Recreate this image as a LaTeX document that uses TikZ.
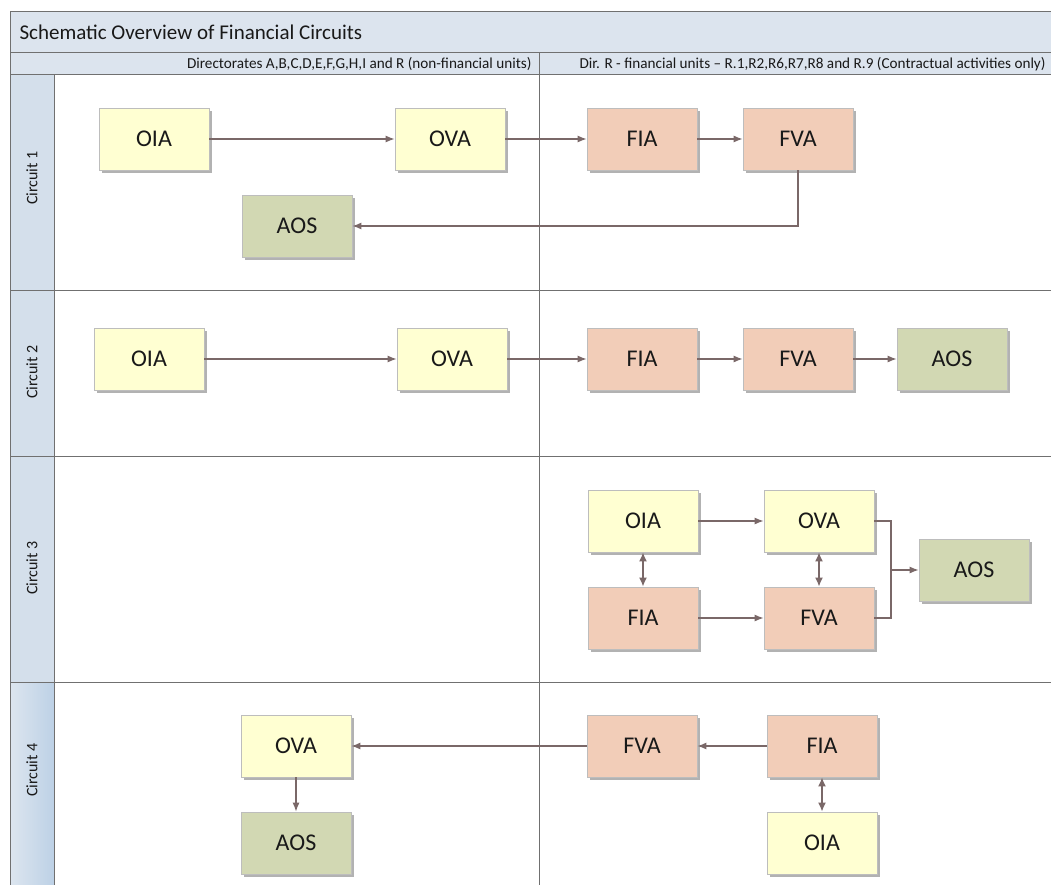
\documentclass[tikz,border=0pt]{standalone}
\usepackage{fontspec}
\setmainfont{Carlito}
\usetikzlibrary{arrows.meta,shadows}
\definecolor{yel}{HTML}{FFFFD2}
\definecolor{pnk}{HTML}{F2CDB8}
\definecolor{grn}{HTML}{D2D8B3}
\definecolor{band}{HTML}{DCE4EE}
\definecolor{lane}{HTML}{D4DFEB}
\definecolor{lanedark}{HTML}{BDD1E6}
\definecolor{frame}{HTML}{707070}
\definecolor{arrc}{HTML}{7A6868}
\definecolor{boxline}{HTML}{BDBDBD}
\tikzset{
  box/.style={draw=boxline, line width=0.8pt, minimum width=110pt, minimum height=62pt,
    font=\fontsize{24}{28}\selectfont, text=black!90,
    drop shadow={shadow xshift=3pt, shadow yshift=-3pt, fill=black!30, opacity=1}},
  ybox/.style={box, fill=yel},
  pbox/.style={box, fill=pnk},
  gbox/.style={box, fill=grn},
  conn/.style={draw=arrc, line width=1.1pt},
  arr/.style={conn, -{Latex[length=9pt,width=7pt]}},
  darr/.style={conn, line width=1.6pt, {Latex[length=9pt,width=8pt]}-{Latex[length=9pt,width=8pt]}},
  frm/.style={draw=frame, line width=1pt},
  lanelbl/.style={rotate=90, font=\fontsize{16}{19}\selectfont, text=black!90},
  hdr/.style={font=\fontsize{15.2}{17}\selectfont, text=black!90}
}
\begin{document}
\begin{tikzpicture}[x=1pt,y=-1pt]
\useasboundingbox (0,0) rectangle (1051,885);
\begin{scope}
\clip (0,0) rectangle (1051,885);
\fill[white] (0,0) rectangle (1051,885);
% bands
\fill[band] (10,12) rectangle (1070,75);
\fill[lane] (10,75) rectangle (54,682);
\shade[left color=lane!80!white, right color=lanedark] (10,682) rectangle (54,900);
% frame lines
\draw[frm] (1070,12) -- (10,12) -- (10,900);
\draw[frm] (10,53) -- (1070,53);
\draw[frm] (10,75) -- (1070,75);
\draw[frm] (54,75) -- (54,900);
\draw[frm] (539,53) -- (539,900);
\draw[frm] (10,290) -- (1070,290);
\draw[frm] (10,456) -- (1070,456);
\draw[frm] (10,682) -- (1070,682);
% titles
\node[anchor=west, font=\fontsize{21}{25}\selectfont, text=black!90] (title) at (16,32) {Schematic Overview of Financial Circuits};
\node[hdr, anchor=east] (h1) at (535,64) {Directorates A,B,C,D,E,F,G,H,I and R (non-financial units)};
\node[hdr, anchor=west] (h2) at (576,64) {Dir. R - financial units – R.1,R2,R6,R7,R8 and R.9 (Contractual activities only)};
\node[lanelbl] (l1) at (32,178) {Circuit 1};
\node[lanelbl] (l2) at (32,372) {Circuit 2};
\node[lanelbl] (l3) at (32,568) {Circuit 3};
\node[lanelbl] (l4) at (32,770) {Circuit 4};
% circuit 1
\node[ybox] (o1) at (154,139) {OIA};
\node[ybox] (v1) at (450,139) {OVA};
\node[pbox] (f1) at (642,139) {FIA};
\node[pbox] (fv1) at (798,139) {FVA};
\node[gbox] (a1) at (297,226) {AOS};
\draw[arr] (o1) -- (v1);
\draw[arr] (v1) -- (f1);
\draw[arr] (f1) -- (fv1);
\draw[arr] (fv1.south) |- (a1.east);
% circuit 2
\node[ybox] (o2) at (149,359) {OIA};
\node[ybox] (v2) at (452,359) {OVA};
\node[pbox] (f2) at (642,359) {FIA};
\node[pbox] (fv2) at (798,359) {FVA};
\node[gbox] (a2) at (952,359) {AOS};
\draw[arr] (o2) -- (v2);
\draw[arr] (v2) -- (f2);
\draw[arr] (f2) -- (fv2);
\draw[arr] (fv2) -- (a2);
% circuit 3
\node[ybox] (o3) at (643,521) {OIA};
\node[ybox] (v3) at (819,521) {OVA};
\node[pbox] (f3) at (643,618) {FIA};
\node[pbox] (fv3) at (819,618) {FVA};
\node[gbox] (a3) at (974,570) {AOS};
\coordinate (j3) at (891,570);
\draw[arr] (o3) -- (v3);
\draw[arr] (f3) -- (fv3);
\draw[darr] (o3) -- (f3);
\draw[darr] (v3) -- (fv3);
\draw[conn] (v3.east) -| (j3) |- (fv3.east);
\draw[arr] (j3) -- (a3.west);
% circuit 4
\node[ybox] (v4) at (296,746) {OVA};
\node[gbox] (a4) at (296,843) {AOS};
\node[pbox] (fv4) at (642,746) {FVA};
\node[pbox] (f4) at (822,746) {FIA};
\node[ybox] (o4) at (822,843) {OIA};
\draw[arr] (f4) -- (fv4);
\draw[arr] (fv4) -- (v4);
\draw[arr] (v4) -- (a4);
\draw[darr] (f4) -- (o4);
\end{scope}
\end{tikzpicture}
\end{document}
